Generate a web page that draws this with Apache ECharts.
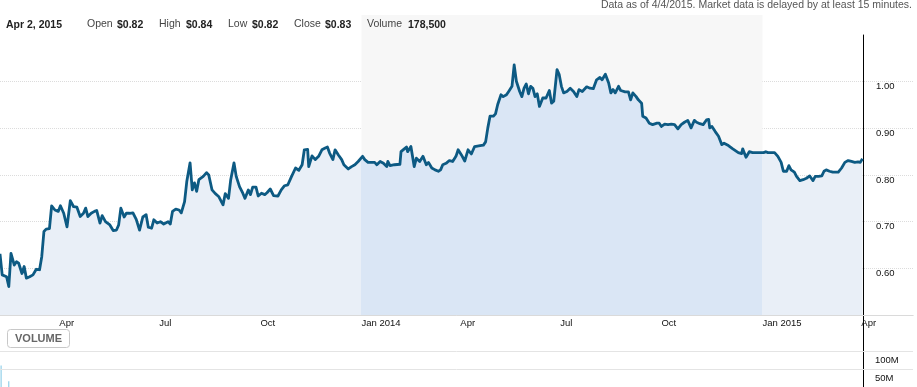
<!DOCTYPE html>
<html><head><meta charset="utf-8">
<script src="https://cdn.jsdelivr.net/npm/echarts@6/dist/echarts.min.js"></script>
<style>html,body{margin:0;padding:0;background:#fff}#c{width:917px;height:387px}</style>
</head><body><div id="c"></div>
<script>
// ---------- data ----------
const dates = [
'2013-02-06','2013-02-08','2013-02-12','2013-02-14','2013-02-16','2013-02-19','2013-02-21','2013-02-23','2013-02-26','2013-02-28',
'2013-03-02','2013-03-05','2013-03-08','2013-03-11','2013-03-14','2013-03-16','2013-03-18','2013-03-20','2013-03-23','2013-03-25',
'2013-03-28','2013-03-31','2013-04-02','2013-04-05','2013-04-08','2013-04-11','2013-04-14','2013-04-17','2013-04-20','2013-04-23',
'2013-04-25','2013-04-27','2013-04-30','2013-05-03','2013-05-05','2013-05-08','2013-05-10','2013-05-13','2013-05-17','2013-05-20',
'2013-05-23','2013-05-25','2013-05-27','2013-05-30','2013-06-01','2013-06-04','2013-06-07','2013-06-10','2013-06-13','2013-06-16',
'2013-06-19','2013-06-21','2013-06-24','2013-06-26','2013-06-29','2013-07-02','2013-07-05','2013-07-09','2013-07-11','2013-07-13',
'2013-07-16','2013-07-19','2013-07-21','2013-07-24','2013-07-26','2013-07-29','2013-07-31','2013-08-02','2013-08-04','2013-08-06',
'2013-08-10','2013-08-13','2013-08-15','2013-08-18','2013-08-21','2013-08-24','2013-08-28','2013-08-30','2013-09-02','2013-09-04',
'2013-09-07','2013-09-09','2013-09-12','2013-09-15','2013-09-17','2013-09-20','2013-09-22','2013-09-24','2013-09-27','2013-09-29',
'2013-10-02','2013-10-05','2013-10-07','2013-10-10','2013-10-13','2013-10-17','2013-10-20','2013-10-23','2013-10-26','2013-10-29',
'2013-11-02','2013-11-05','2013-11-08','2013-11-10','2013-11-13','2013-11-14','2013-11-17','2013-11-20','2013-11-23','2013-11-26',
'2013-11-29','2013-12-01','2013-12-03','2013-12-06','2013-12-08','2013-12-11','2013-12-14','2013-12-16','2013-12-20','2013-12-23',
'2013-12-26','2013-12-29',
'2014-01-02','2014-01-04','2014-01-07','2014-01-10','2014-01-13','2014-01-15','2014-01-18','2014-01-21','2014-01-24','2014-01-25',
'2014-01-27','2014-01-31','2014-02-05','2014-02-06','2014-02-09','2014-02-11','2014-02-12','2014-02-15','2014-02-16','2014-02-18',
'2014-02-20','2014-02-23','2014-02-26','2014-03-01','2014-03-03','2014-03-06','2014-03-09','2014-03-12','2014-03-14','2014-03-16',
'2014-03-19','2014-03-22','2014-03-25','2014-03-28','2014-03-30','2014-04-02','2014-04-05','2014-04-08','2014-04-11','2014-04-14',
'2014-04-19','2014-04-22','2014-04-24','2014-04-26','2014-04-28','2014-05-01','2014-05-03','2014-05-05','2014-05-08','2014-05-10',
'2014-05-13','2014-05-15','2014-05-18','2014-05-19','2014-05-20','2014-05-22','2014-05-25','2014-05-27','2014-05-29','2014-05-31',
'2014-06-02','2014-06-04','2014-06-06','2014-06-08','2014-06-10','2014-06-12','2014-06-15','2014-06-18','2014-06-21','2014-06-23',
'2014-06-25','2014-06-28','2014-06-30','2014-07-02','2014-07-04','2014-07-07','2014-07-10','2014-07-13','2014-07-16','2014-07-18',
'2014-07-21','2014-07-25','2014-07-28','2014-07-31','2014-08-03','2014-08-06','2014-08-08','2014-08-11','2014-08-12','2014-08-14',
'2014-08-16','2014-08-18','2014-08-20','2014-08-23','2014-08-25','2014-08-29','2014-09-01','2014-09-03','2014-09-05','2014-09-08',
'2014-09-10','2014-09-13','2014-09-14','2014-09-17','2014-09-20','2014-09-23','2014-09-27','2014-09-29','2014-10-01','2014-10-04',
'2014-10-07','2014-10-10','2014-10-13','2014-10-16','2014-10-19','2014-10-22','2014-10-25','2014-10-28','2014-10-31','2014-11-02',
'2014-11-05','2014-11-08','2014-11-11','2014-11-13','2014-11-14','2014-11-16','2014-11-19','2014-11-22','2014-11-25','2014-11-27',
'2014-12-01','2014-12-05','2014-12-10','2014-12-13','2014-12-14','2014-12-17','2014-12-20','2014-12-23','2014-12-28',
'2015-01-02','2015-01-04','2015-01-06','2015-01-12','2015-01-15','2015-01-18','2015-01-20','2015-01-23','2015-01-25','2015-01-27',
'2015-01-30','2015-02-01','2015-02-04','2015-02-07','2015-02-10','2015-02-13','2015-02-16','2015-02-18','2015-02-21','2015-02-24',
'2015-02-26','2015-02-28','2015-03-03','2015-03-06','2015-03-11','2015-03-14','2015-03-17','2015-03-20','2015-03-23','2015-03-26',
'2015-03-29','2015-03-31','2015-04-02'
];
const closes = [
0.631,0.586,0.582,0.561,0.632,0.607,0.614,0.611,0.589,0.604,
0.579,0.582,0.586,0.598,0.597,0.625,0.679,0.684,0.685,0.734,
0.725,0.722,0.734,0.718,0.689,0.745,0.732,0.731,0.711,0.718,
0.729,0.711,0.718,0.722,0.724,0.697,0.713,0.700,0.693,0.681,
0.682,0.693,0.729,0.710,0.718,0.718,0.719,0.705,0.682,0.710,
0.715,0.688,0.686,0.704,0.697,0.700,0.695,0.700,0.695,0.722,
0.727,0.725,0.719,0.743,0.786,0.826,0.768,0.783,0.765,0.790,
0.797,0.805,0.800,0.768,0.760,0.754,0.736,0.760,0.750,0.790,
0.826,0.797,0.775,0.761,0.750,0.768,0.758,0.774,0.774,0.755,
0.761,0.758,0.762,0.770,0.756,0.755,0.768,0.777,0.779,0.795,
0.815,0.810,0.822,0.854,0.855,0.818,0.841,0.833,0.840,0.854,
0.858,0.860,0.847,0.833,0.854,0.843,0.833,0.822,0.813,0.818,
0.822,0.829,
0.840,0.833,0.827,0.827,0.827,0.822,0.829,0.825,0.818,0.829,
0.820,0.822,0.823,0.850,0.856,0.860,0.850,0.861,0.861,0.818,
0.836,0.829,0.840,0.822,0.827,0.815,0.811,0.808,0.811,0.822,
0.825,0.831,0.829,0.840,0.854,0.843,0.830,0.854,0.845,0.861,
0.863,0.864,0.871,0.901,0.926,0.926,0.931,0.951,0.972,0.968,
0.972,0.979,0.990,0.993,1.036,1.001,0.979,0.968,0.986,0.995,
0.974,0.990,0.986,0.968,0.974,0.947,0.965,0.965,0.981,0.954,
0.958,1.026,1.015,0.990,0.976,0.979,0.986,0.979,0.968,0.983,
0.979,0.989,0.986,0.985,1.004,1.009,1.004,1.016,1.015,0.997,
0.976,0.983,0.976,0.990,0.981,0.978,0.978,0.961,0.976,0.968,
0.961,0.954,0.926,0.922,0.911,0.908,0.911,0.911,0.904,0.909,
0.908,0.909,0.908,0.899,0.908,0.913,0.917,0.901,0.917,0.913,
0.910,0.908,0.918,0.919,0.901,0.904,0.893,0.883,0.865,0.868,
0.863,0.856,0.848,0.846,0.856,0.838,0.850,0.848,0.848,
0.848,0.850,0.848,0.848,0.840,0.827,0.808,0.808,0.820,0.811,
0.806,0.797,0.788,0.790,0.793,0.798,0.788,0.797,0.797,0.798,
0.808,0.811,0.808,0.806,0.806,0.815,0.827,0.831,0.829,0.827,
0.828,0.827,0.835
];
const volumeDates = ['2013-02-07','2013-02-14'];
const volumes = [60000000, 16000000];
const highlightRange = ['2014-01-01','2015-01-01'];
const xTickDates = ['2013-04-01','2013-07-01','2013-10-01','2014-01-01','2014-04-01','2014-07-01','2014-10-01','2015-01-01','2015-04-01'];
const xTickLabels = ['Apr','Jul','Oct','Jan 2014','Apr','Jul','Oct','Jan 2015','Apr'];
const priceTickLabels = ['0.60','0.70','0.80','0.90','1.00'];
const volumeTickValues = [50000000, 100000000];
const volumeTickLabels = ['50M','100M'];
const headerDate = 'Apr 2, 2015';
const headerNames = ['Open','High','Low','Close','Volume'];
const headerValues = ['$0.82','$0.84','$0.82','$0.83','178,500'];
const disclaimer = 'Data as of 4/4/2015. Market data is delayed by at least 15 minutes.';
const axisStart = '2013-02-06', axisEnd = '2015-05-18';

// ---------- build ----------
const T = s => echarts.number.parseDate(s).getTime();
const FONT = '"Liberation Sans", Arial, sans-serif';
const priceData = dates.map((d, i) => [T(d), closes[i]]);
const volData = volumeDates.map((d, i) => [T(d), volumes[i]]);
const tickTs = xTickDates.map(T);
const t0 = T(dates[0]), t1 = T(dates[dates.length - 1]);
const o1 = (T(highlightRange[0]) - t0) / (t1 - t0);
const o2 = (T(highlightRange[1]) - t0) / (t1 - t0);
const fillOut = '#e9eff7', fillIn = '#dae6f5';

const nameX = [87, 159, 228, 294, 367];
const valX = [117, 186, 252, 325, 408];
const titles = [
  {text: disclaimer, right: 5, top: 0, padding: 0, textStyle: {fontSize: 10.5, fontWeight: 'normal', color: '#555', fontFamily: FONT}},
  {text: headerDate, left: 6, top: 19.5, padding: 0, textStyle: {fontSize: 10.5, fontWeight: 'bold', color: '#222', fontFamily: FONT}},
  {text: 'VOLUME', left: 7, top: 329, padding: [4, 8, 4, 8], borderColor: '#c8c8c8', borderWidth: 1, borderRadius: 3,
   textStyle: {fontSize: 11, fontWeight: 'bold', color: '#666', fontFamily: FONT}}
];
headerNames.forEach((n, i) => {
  titles.push({text: n, left: nameX[i], top: 19, padding: 0, textStyle: {fontSize: 10.5, fontWeight: 'normal', color: '#444', fontFamily: FONT}});
  titles.push({text: headerValues[i], left: valX[i], top: 19.5, padding: 0, textStyle: {fontSize: 10.5, fontWeight: 'bold', color: '#222', fontFamily: FONT}});
});

const xMin = T(axisStart), xMax = T(axisEnd);
const chart = echarts.init(document.getElementById('c'), null, {renderer: 'canvas'});
chart.setOption({
  animation: false,
  backgroundColor: '#fff',
  textStyle: {fontFamily: FONT},
  title: titles,
  grid: [
    {left: 0, right: 4, top: 15, bottom: 72},
    {left: 0, right: 4, top: 35, bottom: 72},
    {left: 0, right: 4, top: 315, bottom: -4}
  ],
  xAxis: [
    {gridIndex: 0, type: 'value', min: xMin, max: xMax, position: 'top',
     axisLine: {show: true, lineStyle: {color: '#e2e2e2'}}, axisTick: {show: false}, axisLabel: {show: false}, splitLine: {show: false}},
    {gridIndex: 1, type: 'value', min: xMin, max: xMax,
     axisLine: {show: true, lineStyle: {color: '#dadada'}}, axisTick: {show: false}, splitLine: {show: false},
     axisLabel: {customValues: tickTs, align: 'left', margin: 3, fontSize: 9.5, color: '#111', fontFamily: FONT,
       showMinLabel: true, showMaxLabel: true, hideOverlap: false,
       formatter: v => { const i = tickTs.indexOf(v); return i >= 0 ? xTickLabels[i] : ''; }}},
    {gridIndex: 2, type: 'value', min: xMin, max: xMax, show: false}
  ],
  yAxis: [
    {gridIndex: 0, type: 'value', min: 0, max: 1, show: false},
    {gridIndex: 1, type: 'value', position: 'right', offset: -50, min: 0.5, max: 1.1, interval: 0.1,
     axisLine: {show: true, lineStyle: {color: '#000', width: 1}}, axisTick: {show: false},
     splitLine: {show: true, showMinLine: false, showMaxLine: false, lineStyle: {color: '#dcdcdc', type: 'dotted', width: 1}},
     axisLabel: {margin: 13, fontSize: 9.5, color: '#111', verticalAlign: 'top', fontFamily: FONT,
       formatter: v => { const s = v.toFixed(2); return priceTickLabels.indexOf(s) >= 0 ? s : ''; }}},
    {gridIndex: 2, type: 'value', position: 'right', offset: -50, min: 0, max: 200000000, interval: 50000000,
     axisLine: {show: true, lineStyle: {color: '#000', width: 1}}, axisTick: {show: false}, splitLine: {show: false},
     axisLabel: {margin: 12, fontSize: 9.5, color: '#111', verticalAlign: 'top', padding: [4, 0, 0, 0], fontFamily: FONT,
       formatter: v => { const i = volumeTickValues.indexOf(Math.round(v)); return i >= 0 ? volumeTickLabels[i] : ''; }}}
  ],
  series: [
    {type: 'line', xAxisIndex: 0, yAxisIndex: 0, z: 0, silent: true, symbol: 'none',
     data: [[T(highlightRange[0]), 0], [T(highlightRange[1]), 0]], lineStyle: {opacity: 0},
     markArea: {silent: true, itemStyle: {color: '#f7f7f7'},
       data: [[{xAxis: T(highlightRange[0])}, {xAxis: T(highlightRange[1])}]]}},
    {type: 'line', name: 'Price', xAxisIndex: 1, yAxisIndex: 1, z: 3, data: priceData,
     showSymbol: false, symbol: 'none', smooth: false,
     lineStyle: {color: '#0d5a83', width: 2.8, join: 'round'},
     areaStyle: {opacity: 1, color: new echarts.graphic.LinearGradient(0, 0, 1, 0, [
       {offset: 0, color: fillOut}, {offset: o1, color: fillOut}, {offset: o1, color: fillIn},
       {offset: o2, color: fillIn}, {offset: o2, color: fillOut}, {offset: 1, color: fillOut}])}},
    {type: 'bar', name: 'Volume', xAxisIndex: 2, yAxisIndex: 2, data: volData, barWidth: 1,
     itemStyle: {color: '#7cc7e4'},
     markLine: {silent: true, symbol: 'none', label: {show: false},
       lineStyle: {color: '#e4e4e4', type: 'solid', width: 1},
       data: volumeTickValues.map(v => ({yAxis: v}))}}
  ]
});
</script></body></html>
